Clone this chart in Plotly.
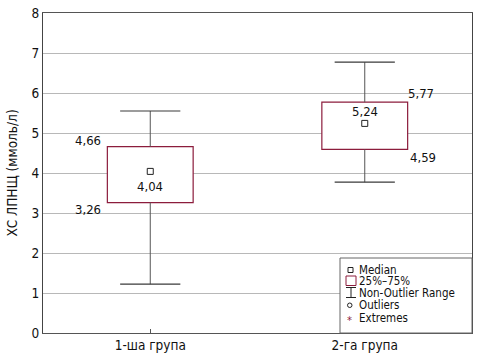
import plotly.graph_objects as go

# ---- data ----
groups = ["1-ша група", "2-га група"]
q1 = [3.26, 4.59]
q3 = [4.66, 5.77]
median = [4.04, 5.24]
lower = [1.22, 3.77]
upper = [5.55, 6.77]
q1_labels = ["3,26", "4,59"]
q3_labels = ["4,66", "5,77"]
median_labels = ["4,04", "5,24"]
legend_items = ["Median", "25%–75%", "Non-Outlier Range", "Outliers", "Extremes"]
y_title = "ХС ЛПНЩ (ммоль/л)"

FONT = "Liberation Sans Narrow, Arial Narrow, DejaVu Sans Condensed, sans-serif"
BOX_COLOR = "#8c1c3c"
WHISK = "#3a3a3a"

W, H = 478, 361
ML, MR, MT, MB = 43, 6, 13, 28
PW, PH = W - ML - MR, H - MT - MB

fig = go.Figure()

# box body (q1..q3)
fig.add_trace(go.Bar(
    x=groups, y=[b - a for a, b in zip(q1, q3)], base=q1, width=0.4,
    marker=dict(color="white", line=dict(color=BOX_COLOR, width=1.2)),
    showlegend=False, hoverinfo="skip"))

# whiskers
wx, wy = [], []
for g, a, b, lo, hi in zip(groups, q1, q3, lower, upper):
    wx += [g, g, None, g, g, None]
    wy += [b, hi, None, a, lo, None]
fig.add_trace(go.Scatter(x=wx, y=wy, mode="lines",
                         line=dict(color="#555555", width=1),
                         showlegend=False, hoverinfo="skip"))
fig.add_trace(go.Scatter(
    x=groups + groups, y=upper + lower, mode="markers",
    marker=dict(symbol="line-ew", size=43, line=dict(color=WHISK, width=1.2)),
    showlegend=False, hoverinfo="skip"))

# median markers
fig.add_trace(go.Scatter(
    x=groups, y=median, mode="markers",
    marker=dict(symbol="square-open", size=6, color="#222", line=dict(width=1)),
    showlegend=False, hoverinfo="skip"))

# value labels
ann = []
fs = 13
ann.append(dict(x=groups[0], y=q3[0], text=q3_labels[0], xanchor="right", yanchor="middle",
                xshift=-47, yshift=6, showarrow=False))
ann.append(dict(x=groups[0], y=q1[0], text=q1_labels[0], xanchor="right", yanchor="middle",
                xshift=-47, yshift=-7, showarrow=False))
ann.append(dict(x=groups[0], y=median[0], text=median_labels[0], xanchor="center", yanchor="middle",
                yshift=-15, showarrow=False))
ann.append(dict(x=groups[1], y=median[1], text=median_labels[1], xanchor="center", yanchor="middle",
                yshift=12, showarrow=False))
ann.append(dict(x=groups[1], y=q3[1], text=q3_labels[1], xanchor="left", yanchor="middle",
                xshift=41, yshift=9, showarrow=False))
ann.append(dict(x=groups[1], y=q1[1], text=q1_labels[1], xanchor="left", yanchor="middle",
                xshift=43, yshift=-8, showarrow=False))
for a in ann:
    a["font"] = dict(family=FONT, size=fs, color="#111")

# ---- manual legend (window pixel -> paper helpers) ----
def px(x):
    return (x - ML) / PW

def py(y):
    return ((MT + PH) - y) / PH

shapes = []
shapes.append(dict(type="rect", xref="paper", yref="paper",
                   x0=px(340), x1=px(472), y0=py(333), y1=py(258),
                   line=dict(color="#666", width=1), fillcolor="white", layer="above"))
rows = [269.5, 281, 293, 305, 317.5]
tx = 357
for label, ry in zip(legend_items, rows):
    ann.append(dict(x=px(tx), y=py(ry), xref="paper", yref="paper", text=label,
                    xanchor="left", yanchor="middle", showarrow=False,
                    font=dict(family=FONT, size=11.5, color="#111")))
# Median symbol
shapes.append(dict(type="rect", xref="paper", yref="paper",
                   x0=px(348), x1=px(353), y0=py(272.5), y1=py(267.5),
                   line=dict(color="#222", width=1), layer="above"))
# 25-75 symbol
shapes.append(dict(type="rect", xref="paper", yref="paper",
                   x0=px(346), x1=px(356), y0=py(285.5), y1=py(276),
                   line=dict(color=BOX_COLOR, width=1), layer="above"))
# Non-outlier range symbol
for (x0, y0, x1, y1) in [(346, 287.5, 356, 287.5), (351, 287.5, 351, 297.5), (346, 297.5, 356, 297.5)]:
    shapes.append(dict(type="line", xref="paper", yref="paper",
                       x0=px(x0), x1=px(x1), y0=py(y0), y1=py(y1),
                       line=dict(color="#222", width=1), layer="above"))
# Outliers symbol
shapes.append(dict(type="circle", xref="paper", yref="paper",
                   x0=px(347.5), x1=px(352), y0=py(307.5), y1=py(303),
                   line=dict(color="#222", width=1), layer="above"))
# Extremes symbol
ann.append(dict(x=px(349.7), y=py(320), xref="paper", yref="paper", text="*",
                xanchor="center", yanchor="middle", showarrow=False,
                font=dict(family="DejaVu Sans", size=10, color=BOX_COLOR)))

fig.update_layout(
    width=W, height=H,
    margin=dict(l=ML, r=MR, t=MT, b=MB, pad=0, autoexpand=False),
    plot_bgcolor="white", paper_bgcolor="white",
    font=dict(family=FONT, size=13, color="#111"),
    showlegend=False,
    annotations=ann, shapes=shapes,
    xaxis=dict(range=[-0.5, 1.5], showgrid=False, showline=True, linecolor="#555",
               linewidth=1, mirror=True, ticks="inside", ticklen=4, tickcolor="#555",
               automargin=False,
               tickfont=dict(family=FONT, size=13.5, color="#111"), fixedrange=True),
    yaxis=dict(range=[0, 8], dtick=1, showgrid=True, gridcolor="#b8b8b8", gridwidth=1,
               showline=True, linecolor="#444", linewidth=1, mirror=True, ticks="",
               zeroline=False, automargin=False, ticklabeloverflow="allow",
               tickfont=dict(family=FONT, size=13.5, color="#111"),
               title=dict(text=y_title, standoff=10,
                          font=dict(family=FONT, size=13.5, color="#111"))),
)

# remove the page's default 8px body margin so the figure fills the window
fig.write_html("out.html", config={"displayModeBar": False},
               post_script="document.body.style.margin='0px';")
